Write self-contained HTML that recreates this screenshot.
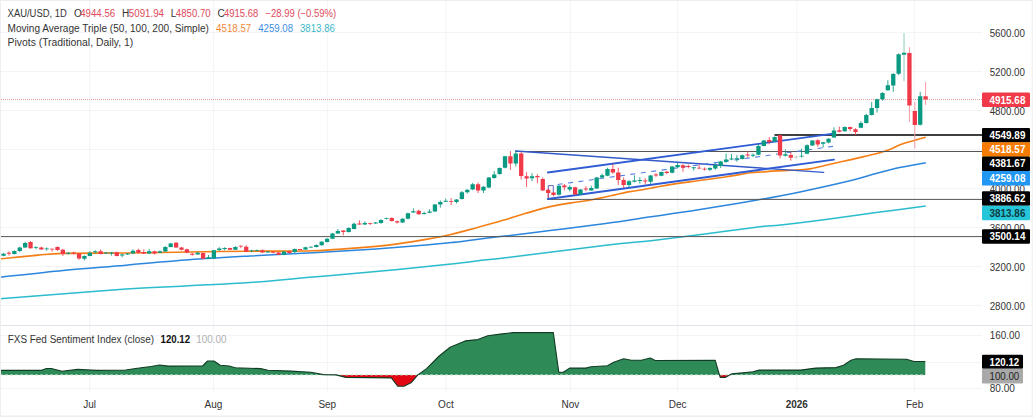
<!DOCTYPE html>
<html lang="en"><head><meta charset="utf-8"><title>XAU/USD 1D chart</title>
<style>html,body{margin:0;padding:0;background:#fff;}body{width:1033px;height:417px;overflow:hidden;font-family:"Liberation Sans", "DejaVu Sans", sans-serif;}svg{display:block}</style>
</head><body>
<svg width="1033" height="417" viewBox="0 0 1033 417" font-family='"Liberation Sans", "DejaVu Sans", sans-serif'>
<rect x="0" y="0" width="1033" height="417" fill="#ffffff"/>
<path d="M1,32.5H982M1,71.5H982M1,110.5H982M1,149.5H982M1,188.5H982M1,227.5H982M1,266.5H982M1,305.5H982M1,335.5H982M1,362.5H982M1,388.5H982M89.7,1V392M213.5,1V392M327.3,1V392M445.9,1V392M570.4,1V392M677.6,1V392M796.8,1V392M914.6,1V392" stroke="#f3f4f7" stroke-width="1" fill="none"/>
<path d="M0,325.5H1033" stroke="#e0e3eb" stroke-width="1"/>
<path d="M0.0,298.7C21.0,297.1 94.5,291.2 126.0,289.1C157.5,287.0 168.3,286.9 189.0,285.8C209.7,284.7 229.3,283.9 250.0,282.5C270.7,281.1 292.0,278.9 313.0,277.1C334.0,275.3 355.0,273.6 376.0,271.6C397.0,269.6 422.2,267.1 439.0,265.3C455.8,263.5 464.7,262.4 476.5,261.0C488.3,259.6 488.1,259.9 510.0,257.2C531.9,254.5 584.5,247.8 608.0,245.0C631.5,242.2 635.5,242.5 651.0,240.7C666.5,238.9 682.8,236.7 701.0,234.4C719.2,232.1 746.8,228.4 760.0,226.8C773.2,225.2 769.5,226.2 780.5,225.0C791.5,223.8 809.9,221.5 825.8,219.4C841.7,217.3 859.3,214.8 876.0,212.6C892.7,210.4 917.5,207.2 925.8,206.1" stroke="#2bbccd" stroke-width="1.5" fill="none"/>
<path d="M0.0,277.2C10.5,276.1 42.0,272.4 63.0,270.4C84.0,268.4 105.0,267.0 126.0,265.2C147.0,263.4 168.3,261.3 189.0,259.8C209.7,258.3 229.3,257.2 250.0,256.0C270.7,254.8 292.0,253.9 313.0,252.7C334.0,251.5 357.2,250.2 376.0,248.9C394.8,247.6 413.5,246.2 426.0,245.1C438.5,244.0 442.6,243.5 451.0,242.6C459.4,241.7 468.3,240.4 476.5,239.4C484.7,238.4 487.8,238.1 500.0,236.6C512.2,235.1 533.3,232.6 550.0,230.6C566.7,228.6 583.2,226.6 600.0,224.3C616.8,222.0 634.3,219.2 651.0,216.8C667.7,214.4 683.5,212.2 700.0,209.6C716.5,207.0 733.3,204.2 750.0,201.3C766.7,198.4 783.2,195.4 800.0,191.9C816.8,188.4 838.3,183.6 851.0,180.5C863.7,177.4 867.7,175.7 876.0,173.5C884.3,171.3 892.7,169.1 901.0,167.3C909.3,165.5 921.7,163.6 925.8,162.8" stroke="#2b86dd" stroke-width="1.5" fill="none"/>
<path d="M0.0,258.9C6.3,258.3 27.5,256.0 38.0,255.1C48.5,254.2 48.3,253.8 63.0,253.4C77.7,253.1 105.0,253.2 126.0,253.0C147.0,252.8 168.3,252.3 189.0,252.0C209.7,251.7 229.3,251.4 250.0,251.2C270.7,251.0 296.2,251.3 313.0,250.8C329.8,250.3 340.5,249.1 351.0,248.4C361.5,247.7 367.7,247.2 376.0,246.4C384.3,245.6 392.7,244.6 401.0,243.4C409.3,242.2 417.7,240.9 426.0,239.4C434.3,237.9 442.6,236.4 451.0,234.5C459.4,232.6 468.3,229.9 476.5,227.7C484.7,225.5 494.4,222.8 500.0,221.2C505.6,219.6 505.8,219.6 510.0,218.3C514.2,217.0 518.3,215.6 525.0,213.6C531.7,211.6 541.6,208.5 550.0,206.6C558.4,204.7 568.5,203.3 575.5,202.2C582.5,201.1 585.6,201.0 592.0,199.8C598.4,198.6 607.7,196.5 614.0,195.1C620.3,193.7 625.5,192.4 630.0,191.6C634.5,190.8 636.8,190.7 641.0,190.0C645.2,189.3 650.2,188.3 655.0,187.4C659.8,186.5 662.3,185.8 670.0,184.6C677.7,183.4 691.6,181.6 701.0,180.3C710.4,179.0 718.3,178.1 726.5,176.8C734.7,175.6 744.1,173.6 750.0,172.8C755.9,172.0 757.8,172.3 762.0,172.0C766.2,171.7 769.0,171.3 775.5,170.9C782.0,170.5 794.6,170.2 800.7,169.8C806.8,169.4 807.8,169.2 812.0,168.5C816.2,167.8 819.3,166.8 825.8,165.3C832.3,163.8 842.6,161.5 851.0,159.6C859.4,157.7 869.7,155.4 876.0,153.8C882.3,152.2 884.8,151.4 889.0,149.8C893.2,148.2 897.2,145.8 901.4,144.2C905.6,142.6 909.9,141.6 914.0,140.4C918.1,139.2 923.8,137.7 925.8,137.2" stroke="#f57f17" stroke-width="1.6" fill="none"/>
<path d="M1,236.6H982" stroke="#555" stroke-width="1"/>
<path d="M547.6,199.4H982" stroke="#555" stroke-width="1"/>
<path d="M515.6,151.5H982" stroke="#555" stroke-width="1"/>
<path d="M774.5,134.9H982" stroke="#000" stroke-width="1.5"/>
<path d="M515.6,151.0L823.6,172.4" stroke="#3358c8" stroke-width="1.45" fill="none" stroke-linecap="round"/>
<g stroke="#2f5cd3" stroke-width="1.8" fill="none" stroke-linecap="round">
<path d="M547.8,172.5L833.5,133.7"/>
<path d="M547.8,199.0L834,159.6"/>
</g>
<path d="M557.6,184.5L833.5,146.3" stroke="#5580e2" stroke-width="1.1" stroke-dasharray="5,5.5" fill="none"/>
<path d="M548.3,198V185.6H553.3V192.5" stroke="#5650b0" stroke-width="0.9" fill="none"/>
<path d="M1,99.5H982" stroke="#eb9aa2" stroke-width="1" stroke-dasharray="1,1"/>
<path d="M3.57,252.8V256.2M14.35,250.4V254.5M19.75,246.7V252.2M25.14,241.8V247.9M35.92,246.2V249.2M46.71,247.4V250.7M68.27,252.2V254.5M84.45,255.4V260.4M89.84,251.2V256.2M95.23,250.4V253.5M106.02,252.2V254.0M111.41,252.0V255.7M122.19,253.7V257.2M127.59,253.0V255.0M132.98,249.4V253.7M149.15,248.8V254.0M159.94,250.4V253.2M165.33,246.2V252.0M170.72,242.9V247.4M197.68,252.0V254.7M208.47,255.0V259.0M213.86,249.9V258.9M219.25,247.2V251.2M224.64,247.2V250.4M235.43,246.2V249.9M251.60,249.8V252.3M256.99,249.5V251.5M267.78,251.3V252.8M283.95,251.3V255.2M294.74,248.5V253.3M305.52,246.7V250.0M310.91,246.5V248.0M316.31,244.5V247.5M321.70,241.2V245.7M327.09,238.2V242.5M332.48,232.9V239.2M337.87,229.1V233.9M348.66,227.4V232.6M354.05,222.6V229.4M364.83,221.3V224.8M375.62,222.0V223.8M381.01,219.2V223.8M386.40,217.5V219.5M402.58,218.2V223.0M407.97,212.7V219.2M413.36,208.4V212.9M424.15,211.7V214.7M429.54,209.2V213.2M434.93,203.9V211.9M440.32,200.4V207.7M445.71,198.6V201.9M456.50,199.1V203.4M461.89,191.0V199.6M467.28,189.3V193.6M472.67,182.9V190.1M483.46,186.0V193.0M488.85,177.0V188.1M494.24,171.2V178.7M499.63,167.4V174.7M505.03,155.8V168.4M515.81,150.8V166.5M531.99,173.2V181.3M558.95,185.0V195.5M569.73,185.4V191.3M580.51,189.0V195.0M591.30,185.7V190.8M596.69,176.9V189.0M602.08,173.6V178.2M607.47,167.7V176.2M629.04,179.9V187.0M634.43,175.3V182.5M639.83,177.2V183.7M650.61,174.9V184.0M661.39,171.5V176.2M672.18,166.0V173.3M677.57,162.8V168.4M693.75,167.2V170.6M709.92,167.2V171.1M715.31,162.8V169.8M720.71,160.9V168.0M726.10,153.7V162.8M731.49,153.9V160.2M736.88,155.2V161.7M742.27,154.4V159.5M753.06,153.4V157.2M758.45,143.9V155.2M763.84,139.9V146.4M774.63,136.3V141.9M785.41,149.5V156.5M801.59,148.7V157.7M806.98,144.3V154.3M812.37,140.0V146.0M823.15,142.0V147.5M828.55,138.2V143.3M833.94,127.4V138.0M844.72,126.4V131.7M860.90,121.1V128.2M866.29,113.8V123.6M871.68,102.1V115.5M877.07,98.6V112.6M882.47,92.2V100.5M887.86,80.2V90.6M893.25,73.1V91.8M898.64,53.4V75.0M920.21,91.8V125.5" stroke="#0a9a82" stroke-width="0.85" fill="none"/>
<path d="M8.96,251.3V255.5M30.53,241.1V248.7M41.31,246.7V249.8M52.10,248.7V251.6M57.49,246.3V250.9M62.88,248.8V256.0M73.67,251.6V254.5M79.06,253.0V259.8M100.63,249.4V254.5M116.80,251.7V256.4M138.37,248.7V253.5M143.76,249.4V254.0M154.55,250.7V254.7M176.11,241.9V247.9M181.51,246.9V250.4M186.90,248.7V253.2M192.29,252.8V255.7M203.07,252.6V259.3M230.03,247.7V249.9M240.82,245.4V248.2M246.21,245.2V252.2M262.39,249.3V252.8M273.17,251.3V253.3M278.56,251.8V255.0M289.35,250.8V253.5M300.13,249.0V250.0M343.27,230.4V235.4M359.44,220.3V224.8M370.23,222.6V225.1M391.79,217.2V221.7M397.19,220.5V223.5M418.75,209.7V214.7M451.11,198.1V205.1M478.07,182.5V193.0M510.42,151.1V169.9M521.20,152.1V179.5M526.59,172.2V187.1M537.38,174.2V183.3M542.77,177.5V190.8M548.16,188.7V197.9M553.55,192.0V196.3M564.34,184.0V190.4M575.12,186.7V195.0M585.91,186.2V191.3M612.87,164.0V173.6M618.26,167.7V185.0M623.65,177.4V187.9M645.22,178.2V184.5M656.00,173.1V176.9M666.79,170.9V174.1M682.96,164.3V171.8M688.35,164.6V168.4M699.14,164.3V168.8M704.53,167.5V170.6M747.67,151.2V157.5M769.23,137.1V144.4M780.02,134.8V158.5M790.80,152.1V160.7M817.76,139.2V146.8M839.33,126.6V132.4M850.11,126.6V131.2M855.51,128.2V135.2" stroke="#f03a4a" stroke-width="0.85" fill="none"/>
<path d="M904.03,33.1V81.2" stroke="#8fcbc0" stroke-width="1" fill="none"/>
<path d="M909.43,47.2V121.8M914.82,101.9V148.6M925.60,82.2V104.9" stroke="#f59aa2" stroke-width="1" fill="none"/>
<path d="M796.19,156.0V158.5" stroke="#b8c4c2" stroke-width="1" fill="none"/>
<path d="M1.42,253.8h4.3V255.7h-4.3zM12.20,250.9h4.3V254.1h-4.3zM17.60,247.5h4.3V250.9h-4.3zM22.99,243.1h4.3V247.5h-4.3zM33.77,247.2h4.3V248.1h-4.3zM44.56,248.4h4.3V249.3h-4.3zM66.12,252.8h4.3V253.7h-4.3zM82.30,256.0h4.3V258.7h-4.3zM87.69,252.8h4.3V256.0h-4.3zM93.08,251.2h4.3V252.2h-4.3zM103.87,252.6h4.3V253.5h-4.3zM109.26,252.5h4.3V253.4h-4.3zM120.04,254.5h4.3V255.5h-4.3zM125.44,253.5h4.3V254.5h-4.3zM130.83,250.7h4.3V253.5h-4.3zM147.00,251.2h4.3V253.5h-4.3zM157.79,251.2h4.3V252.8h-4.3zM163.18,246.9h4.3V251.6h-4.3zM168.57,243.6h4.3V246.9h-4.3zM195.53,252.8h4.3V254.5h-4.3zM206.32,257.2h4.3V258.7h-4.3zM211.71,250.2h4.3V258.5h-4.3zM217.10,248.4h4.3V249.9h-4.3zM222.49,248.0h4.3V248.9h-4.3zM233.28,246.9h4.3V249.7h-4.3zM249.45,250.4h4.3V251.3h-4.3zM254.84,250.2h4.3V251.1h-4.3zM265.63,251.5h4.3V252.4h-4.3zM281.80,251.6h4.3V254.8h-4.3zM292.59,249.0h4.3V252.0h-4.3zM303.37,247.2h4.3V249.5h-4.3zM308.76,246.7h4.3V247.6h-4.3zM314.16,245.0h4.3V247.0h-4.3zM319.55,241.8h4.3V245.2h-4.3zM324.94,238.8h4.3V242.0h-4.3zM330.33,233.6h4.3V238.7h-4.3zM335.72,230.9h4.3V233.4h-4.3zM346.51,228.1h4.3V232.1h-4.3zM351.90,223.7h4.3V228.9h-4.3zM362.68,223.1h4.3V224.6h-4.3zM373.47,222.6h4.3V223.5h-4.3zM378.86,220.0h4.3V223.1h-4.3zM384.25,218.2h4.3V219.1h-4.3zM400.43,218.7h4.3V222.5h-4.3zM405.82,213.2h4.3V218.7h-4.3zM411.21,211.2h4.3V212.4h-4.3zM422.00,212.9h4.3V213.9h-4.3zM427.39,211.4h4.3V212.7h-4.3zM432.78,204.5h4.3V211.4h-4.3zM438.17,202.0h4.3V204.5h-4.3zM443.56,200.8h4.3V201.7h-4.3zM454.35,199.6h4.3V202.1h-4.3zM459.74,192.3h4.3V199.1h-4.3zM465.13,189.8h4.3V192.3h-4.3zM470.52,184.2h4.3V189.6h-4.3zM481.31,186.7h4.3V190.5h-4.3zM486.70,177.6h4.3V187.6h-4.3zM492.09,174.5h4.3V177.9h-4.3zM497.48,168.1h4.3V174.1h-4.3zM502.88,156.2h4.3V167.8h-4.3zM513.66,153.6h4.3V163.4h-4.3zM529.84,176.2h4.3V178.2h-4.3zM556.80,185.7h4.3V194.8h-4.3zM567.58,187.0h4.3V189.5h-4.3zM578.36,189.5h4.3V194.5h-4.3zM589.15,188.0h4.3V190.4h-4.3zM594.54,177.5h4.3V188.5h-4.3zM599.93,175.3h4.3V177.5h-4.3zM605.32,169.0h4.3V175.7h-4.3zM626.89,181.2h4.3V185.0h-4.3zM632.28,180.4h4.3V181.7h-4.3zM637.68,180.0h4.3V180.9h-4.3zM648.46,175.4h4.3V181.7h-4.3zM659.24,172.1h4.3V175.7h-4.3zM670.03,166.5h4.3V172.8h-4.3zM675.42,165.0h4.3V167.2h-4.3zM691.60,167.3h4.3V168.2h-4.3zM707.77,168.0h4.3V169.8h-4.3zM713.16,165.0h4.3V168.4h-4.3zM718.56,161.5h4.3V165.9h-4.3zM723.95,159.6h4.3V161.7h-4.3zM729.34,158.5h4.3V159.4h-4.3zM734.73,158.3h4.3V159.2h-4.3zM740.12,155.2h4.3V159.0h-4.3zM750.91,154.8h4.3V155.7h-4.3zM756.30,146.1h4.3V154.7h-4.3zM761.69,140.4h4.3V145.9h-4.3zM772.48,137.1h4.3V141.4h-4.3zM783.26,154.2h4.3V155.7h-4.3zM799.44,155.8h4.3V156.6h-4.3zM804.83,145.3h4.3V153.8h-4.3zM810.22,140.5h4.3V145.5h-4.3zM821.00,142.3h4.3V143.8h-4.3zM826.40,138.7h4.3V142.5h-4.3zM831.79,130.4h4.3V137.5h-4.3zM842.57,127.0h4.3V131.2h-4.3zM858.75,122.9h4.3V127.7h-4.3zM864.14,114.9h4.3V122.9h-4.3zM869.53,108.0h4.3V115.1h-4.3zM874.92,99.3h4.3V108.0h-4.3zM880.32,93.0h4.3V99.3h-4.3zM885.71,85.2h4.3V90.2h-4.3zM891.10,74.0h4.3V85.6h-4.3zM896.49,54.3h4.3V73.7h-4.3zM901.88,52.7h4.3V54.7h-4.3zM918.06,96.2h4.3V124.7h-4.3z" fill="#0a9a82"/>
<path d="M6.81,252.8h4.3V253.7h-4.3zM28.38,242.1h4.3V248.2h-4.3zM39.16,247.5h4.3V249.4h-4.3zM49.95,248.7h4.3V249.6h-4.3zM55.34,246.9h4.3V249.9h-4.3zM60.73,249.7h4.3V254.1h-4.3zM71.52,252.5h4.3V253.4h-4.3zM76.91,253.5h4.3V258.5h-4.3zM98.48,251.2h4.3V254.1h-4.3zM114.65,252.2h4.3V256.0h-4.3zM136.22,249.9h4.3V252.8h-4.3zM141.61,252.0h4.3V253.5h-4.3zM152.40,251.2h4.3V253.5h-4.3zM173.96,242.8h4.3V247.5h-4.3zM179.36,247.4h4.3V249.7h-4.3zM184.75,249.2h4.3V252.6h-4.3zM190.14,253.8h4.3V254.7h-4.3zM200.92,253.1h4.3V258.7h-4.3zM227.88,248.1h4.3V249.7h-4.3zM238.67,245.7h4.3V246.6h-4.3zM244.06,246.7h4.3V251.7h-4.3zM260.24,250.3h4.3V252.5h-4.3zM271.02,251.8h4.3V252.8h-4.3zM276.41,252.5h4.3V254.8h-4.3zM287.20,251.3h4.3V253.0h-4.3zM297.98,249.0h4.3V249.9h-4.3zM341.12,230.6h4.3V232.1h-4.3zM357.29,223.6h4.3V224.6h-4.3zM368.08,223.2h4.3V224.1h-4.3zM389.64,218.0h4.3V221.1h-4.3zM395.04,221.2h4.3V222.5h-4.3zM416.60,210.8h4.3V214.2h-4.3zM448.96,200.9h4.3V201.8h-4.3zM475.92,184.2h4.3V190.5h-4.3zM508.27,156.2h4.3V163.6h-4.3zM519.05,153.6h4.3V176.0h-4.3zM524.44,176.2h4.3V178.5h-4.3zM535.23,176.0h4.3V177.2h-4.3zM540.62,179.1h4.3V190.4h-4.3zM546.01,189.8h4.3V192.9h-4.3zM551.40,192.6h4.3V195.0h-4.3zM562.19,185.5h4.3V187.2h-4.3zM572.97,187.2h4.3V194.5h-4.3zM583.76,188.5h4.3V189.4h-4.3zM610.72,169.0h4.3V172.4h-4.3zM616.11,172.4h4.3V179.9h-4.3zM621.50,179.9h4.3V185.0h-4.3zM643.07,180.4h4.3V181.4h-4.3zM653.85,174.6h4.3V175.5h-4.3zM664.64,171.8h4.3V173.1h-4.3zM680.81,165.3h4.3V167.8h-4.3zM686.20,166.1h4.3V167.0h-4.3zM696.99,167.7h4.3V168.6h-4.3zM702.38,168.7h4.3V169.6h-4.3zM745.52,154.5h4.3V155.4h-4.3zM767.08,139.9h4.3V141.9h-4.3zM777.87,135.3h4.3V155.5h-4.3zM788.65,155.0h4.3V157.7h-4.3zM815.61,140.2h4.3V144.6h-4.3zM837.18,130.2h4.3V131.7h-4.3zM847.96,127.1h4.3V128.9h-4.3zM853.36,129.2h4.3V131.9h-4.3zM907.28,53.0h4.3V105.6h-4.3zM912.67,111.0h4.3V124.9h-4.3zM923.45,96.2h4.3V99.6h-4.3z" fill="#f03a4a"/>
<path d="M794.04,156.6h4.3V157.5h-4.3z" fill="#b8c4c2"/>
<clipPath id="cu"><rect x="0" y="326" width="982" height="48.89999999999998"/></clipPath>
<clipPath id="cd"><rect x="0" y="374.9" width="982" height="20"/></clipPath>
<path d="M0.0,370.4L40.7,370.4L46.5,368.5L51.3,368.5L62.0,371.2L77.4,369.4L96.8,370.4L125.8,370.0L135.5,368.5L151.0,366.5L159.7,365.0L168.4,366.1L190.0,366.0L202.6,366.0L207.6,361.0L213.9,361.0L220.2,365.3L229.0,366.0L235.3,367.8L260.5,368.6L268.0,370.3L290.7,371.1L310.8,372.3L323.4,374.6L336.0,374.9L346.0,377.4L391.4,377.9L397.7,386.2L403.9,386.2L411.5,382.4L417.8,374.9L426.6,368.6L439.2,356.0L450.1,347.2L465.2,340.9L477.8,339.6L487.8,335.8L500.4,334.1L513.0,332.6L553.3,332.6L558.8,372.3L563.3,372.3L569.6,368.1L586.0,368.1L591.0,366.8L607.4,365.8L613.7,362.3L623.7,358.7L631.3,360.3L641.4,360.3L650.2,358.0L655.2,360.5L715.2,360.3L720.2,377.4L725.2,377.4L731.5,373.9L740.3,373.1L752.9,371.8L759.2,370.1L800.7,370.1L815.8,368.1L836.0,367.6L843.5,365.3L851.1,360.3L856.1,358.7L906.5,359.3L914.0,361.5L925.3,361.5L925.3,374.9L0,374.9Z" fill="#2e8b57" clip-path="url(#cu)"/>
<path d="M0.0,370.4L40.7,370.4L46.5,368.5L51.3,368.5L62.0,371.2L77.4,369.4L96.8,370.4L125.8,370.0L135.5,368.5L151.0,366.5L159.7,365.0L168.4,366.1L190.0,366.0L202.6,366.0L207.6,361.0L213.9,361.0L220.2,365.3L229.0,366.0L235.3,367.8L260.5,368.6L268.0,370.3L290.7,371.1L310.8,372.3L323.4,374.6L336.0,374.9L346.0,377.4L391.4,377.9L397.7,386.2L403.9,386.2L411.5,382.4L417.8,374.9L426.6,368.6L439.2,356.0L450.1,347.2L465.2,340.9L477.8,339.6L487.8,335.8L500.4,334.1L513.0,332.6L553.3,332.6L558.8,372.3L563.3,372.3L569.6,368.1L586.0,368.1L591.0,366.8L607.4,365.8L613.7,362.3L623.7,358.7L631.3,360.3L641.4,360.3L650.2,358.0L655.2,360.5L715.2,360.3L720.2,377.4L725.2,377.4L731.5,373.9L740.3,373.1L752.9,371.8L759.2,370.1L800.7,370.1L815.8,368.1L836.0,367.6L843.5,365.3L851.1,360.3L856.1,358.7L906.5,359.3L914.0,361.5L925.3,361.5L925.3,374.9L0,374.9Z" fill="#e30613" clip-path="url(#cd)"/>
<path d="M0,374.9H925.3" stroke="#bfe3cf" stroke-width="1" stroke-dasharray="3,2" fill="none"/>
<path d="M0.0,370.4L40.7,370.4L46.5,368.5L51.3,368.5L62.0,371.2L77.4,369.4L96.8,370.4L125.8,370.0L135.5,368.5L151.0,366.5L159.7,365.0L168.4,366.1L190.0,366.0L202.6,366.0L207.6,361.0L213.9,361.0L220.2,365.3L229.0,366.0L235.3,367.8L260.5,368.6L268.0,370.3L290.7,371.1L310.8,372.3L323.4,374.6L336.0,374.9L346.0,377.4L391.4,377.9L397.7,386.2L403.9,386.2L411.5,382.4L417.8,374.9L426.6,368.6L439.2,356.0L450.1,347.2L465.2,340.9L477.8,339.6L487.8,335.8L500.4,334.1L513.0,332.6L553.3,332.6L558.8,372.3L563.3,372.3L569.6,368.1L586.0,368.1L591.0,366.8L607.4,365.8L613.7,362.3L623.7,358.7L631.3,360.3L641.4,360.3L650.2,358.0L655.2,360.5L715.2,360.3L720.2,377.4L725.2,377.4L731.5,373.9L740.3,373.1L752.9,371.8L759.2,370.1L800.7,370.1L815.8,368.1L836.0,367.6L843.5,365.3L851.1,360.3L856.1,358.7L906.5,359.3L914.0,361.5L925.3,361.5" stroke="#123d24" stroke-width="1.1" fill="none" stroke-linejoin="round"/>
<text x="989.7" y="36.6" fill="#333333" font-size="10" font-weight="normal" text-anchor="start" textLength="35.3" lengthAdjust="spacingAndGlyphs">5600.00</text>
<text x="989.7" y="75.6" fill="#333333" font-size="10" font-weight="normal" text-anchor="start" textLength="35.3" lengthAdjust="spacingAndGlyphs">5200.00</text>
<text x="989.7" y="114.6" fill="#333333" font-size="10" font-weight="normal" text-anchor="start" textLength="35.3" lengthAdjust="spacingAndGlyphs">4800.00</text>
<text x="989.7" y="192.6" fill="#333333" font-size="10" font-weight="normal" text-anchor="start" textLength="35.3" lengthAdjust="spacingAndGlyphs">4000.00</text>
<text x="989.7" y="231.6" fill="#333333" font-size="10" font-weight="normal" text-anchor="start" textLength="35.3" lengthAdjust="spacingAndGlyphs">3600.00</text>
<text x="989.7" y="270.6" fill="#333333" font-size="10" font-weight="normal" text-anchor="start" textLength="35.3" lengthAdjust="spacingAndGlyphs">3200.00</text>
<text x="989.7" y="309.6" fill="#333333" font-size="10" font-weight="normal" text-anchor="start" textLength="35.3" lengthAdjust="spacingAndGlyphs">2800.00</text>
<text x="989.7" y="338.6" fill="#333333" font-size="10" font-weight="normal" text-anchor="start" textLength="30.2" lengthAdjust="spacingAndGlyphs">160.00</text>
<text x="989.7" y="392.1" fill="#333333" font-size="10" font-weight="normal" text-anchor="start" textLength="25.2" lengthAdjust="spacingAndGlyphs">80.00</text>
<rect x="982" y="92.5" width="48" height="14.5" rx="1.2" fill="#f03a4a"/>
<text x="989.6" y="103.8" fill="#fff" font-size="10" font-weight="bold" text-anchor="start" textLength="35.8" lengthAdjust="spacingAndGlyphs">4915.68</text>
<rect x="982" y="127.9" width="48" height="14.5" rx="1.2" fill="#000"/>
<text x="989.6" y="138.8" fill="#fff" font-size="10" font-weight="bold" text-anchor="start" textLength="35.8" lengthAdjust="spacingAndGlyphs">4549.89</text>
<rect x="982" y="142.2" width="48" height="14.5" rx="1.2" fill="#f57c00"/>
<text x="989.6" y="153.1" fill="#fff" font-size="10" font-weight="bold" text-anchor="start" textLength="35.8" lengthAdjust="spacingAndGlyphs">4518.57</text>
<rect x="982" y="156.6" width="48" height="14.5" rx="1.2" fill="#000"/>
<text x="989.6" y="167.4" fill="#fff" font-size="10" font-weight="bold" text-anchor="start" textLength="35.8" lengthAdjust="spacingAndGlyphs">4381.67</text>
<rect x="982" y="171.1" width="48" height="14.5" rx="1.2" fill="#2196f3"/>
<text x="989.6" y="181.9" fill="#fff" font-size="10" font-weight="bold" text-anchor="start" textLength="35.8" lengthAdjust="spacingAndGlyphs">4259.08</text>
<rect x="982" y="191.2" width="48" height="14.5" rx="1.2" fill="#000"/>
<text x="989.6" y="202.0" fill="#fff" font-size="10" font-weight="bold" text-anchor="start" textLength="35.8" lengthAdjust="spacingAndGlyphs">3886.62</text>
<rect x="982" y="205.7" width="48" height="14.5" rx="1.2" fill="#26c6da"/>
<text x="989.6" y="216.5" fill="#0f3b40" font-size="10" font-weight="bold" text-anchor="start" textLength="35.8" lengthAdjust="spacingAndGlyphs">3813.86</text>
<rect x="982" y="229.3" width="48" height="14.5" rx="1.2" fill="#000"/>
<text x="989.6" y="240.2" fill="#fff" font-size="10" font-weight="bold" text-anchor="start" textLength="35.8" lengthAdjust="spacingAndGlyphs">3500.14</text>
<rect x="982" y="354.8" width="41" height="14" rx="1.2" fill="#000"/>
<text x="989.6" y="365.9" fill="#fff" font-size="10" font-weight="bold" text-anchor="start" textLength="29.6" lengthAdjust="spacingAndGlyphs">120.12</text>
<rect x="982" y="368.8" width="41" height="14.6" rx="1.2" fill="#a9a9a9"/>
<text x="989.6" y="380.0" fill="#222" font-size="10" font-weight="normal" text-anchor="start" textLength="29.6" lengthAdjust="spacingAndGlyphs">100.00</text>
<text x="7.6" y="17.0" fill="#333333" font-size="10" font-weight="normal" text-anchor="start" textLength="59.2" lengthAdjust="spacingAndGlyphs">XAU/USD, 1D</text>
<text x="73.9" y="17.0" fill="#333333" font-size="10" font-weight="normal" text-anchor="start">O</text>
<text x="80.2" y="17.0" fill="#e0495a" font-size="10" font-weight="normal" text-anchor="start" textLength="35.0" lengthAdjust="spacingAndGlyphs">4944.56</text>
<text x="122.0" y="17.0" fill="#333333" font-size="10" font-weight="normal" text-anchor="start">H</text>
<text x="128.8" y="17.0" fill="#e0495a" font-size="10" font-weight="normal" text-anchor="start" textLength="35.2" lengthAdjust="spacingAndGlyphs">5091.94</text>
<text x="170.8" y="17.0" fill="#333333" font-size="10" font-weight="normal" text-anchor="start">L</text>
<text x="175.8" y="17.0" fill="#e0495a" font-size="10" font-weight="normal" text-anchor="start" textLength="34.9" lengthAdjust="spacingAndGlyphs">4850.70</text>
<text x="217.6" y="17.0" fill="#333333" font-size="10" font-weight="normal" text-anchor="start">C</text>
<text x="223.9" y="17.0" fill="#e0495a" font-size="10" font-weight="normal" text-anchor="start" textLength="34.3" lengthAdjust="spacingAndGlyphs">4915.68</text>
<text x="265.5" y="17.0" fill="#e0495a" font-size="10" font-weight="normal" text-anchor="start" textLength="70.6" lengthAdjust="spacingAndGlyphs">−28.99 (−0.59%)</text>
<text x="7.6" y="31.8" fill="#333333" font-size="10" font-weight="normal" text-anchor="start" textLength="201.3" lengthAdjust="spacingAndGlyphs">Moving Average Triple (50, 100, 200, Simple)</text>
<text x="216.1" y="31.8" fill="#f0883a" font-size="10" font-weight="normal" text-anchor="start" textLength="35.2" lengthAdjust="spacingAndGlyphs">4518.57</text>
<text x="258.2" y="31.8" fill="#3b8de0" font-size="10" font-weight="normal" text-anchor="start" textLength="34.9" lengthAdjust="spacingAndGlyphs">4259.08</text>
<text x="300.0" y="31.8" fill="#3bb8c8" font-size="10" font-weight="normal" text-anchor="start" textLength="34.9" lengthAdjust="spacingAndGlyphs">3813.86</text>
<text x="7.6" y="46.0" fill="#333333" font-size="10" font-weight="normal" text-anchor="start" textLength="125.6" lengthAdjust="spacingAndGlyphs">Pivots (Traditional, Daily, 1)</text>
<text x="7.7" y="342.7" fill="#333333" font-size="10" font-weight="normal" text-anchor="start" textLength="146.3" lengthAdjust="spacingAndGlyphs">FXS Fed Sentiment Index (close)</text>
<text x="160.5" y="342.7" fill="#111" font-size="10" font-weight="bold" text-anchor="start" textLength="29.6" lengthAdjust="spacingAndGlyphs">120.12</text>
<text x="196.3" y="342.7" fill="#b0b0b0" font-size="10" font-weight="normal" text-anchor="start" textLength="30.2" lengthAdjust="spacingAndGlyphs">100.00</text>
<text x="89.7" y="408.3" fill="#333333" font-size="10" font-weight="normal" text-anchor="middle">Jul</text>
<text x="213.5" y="408.3" fill="#333333" font-size="10" font-weight="normal" text-anchor="middle">Aug</text>
<text x="327.3" y="408.3" fill="#333333" font-size="10" font-weight="normal" text-anchor="middle">Sep</text>
<text x="445.9" y="408.3" fill="#333333" font-size="10" font-weight="normal" text-anchor="middle">Oct</text>
<text x="570.4" y="408.3" fill="#333333" font-size="10" font-weight="normal" text-anchor="middle">Nov</text>
<text x="677.6" y="408.3" fill="#333333" font-size="10" font-weight="normal" text-anchor="middle">Dec</text>
<text x="796.8" y="408.3" fill="#333333" font-size="10" font-weight="bold" text-anchor="middle">2026</text>
<text x="914.6" y="408.3" fill="#333333" font-size="10" font-weight="normal" text-anchor="middle">Feb</text>
<path d="M0.5,0V417M0,0.5H1033" stroke="#eeeeee" stroke-width="1" fill="none"/>
<rect x="1031.6" y="0" width="1.4" height="417" fill="#f2f2f4"/>
<rect x="0" y="415.5" width="1033" height="1.5" fill="#eeeeee"/>
</svg>
</body></html>
